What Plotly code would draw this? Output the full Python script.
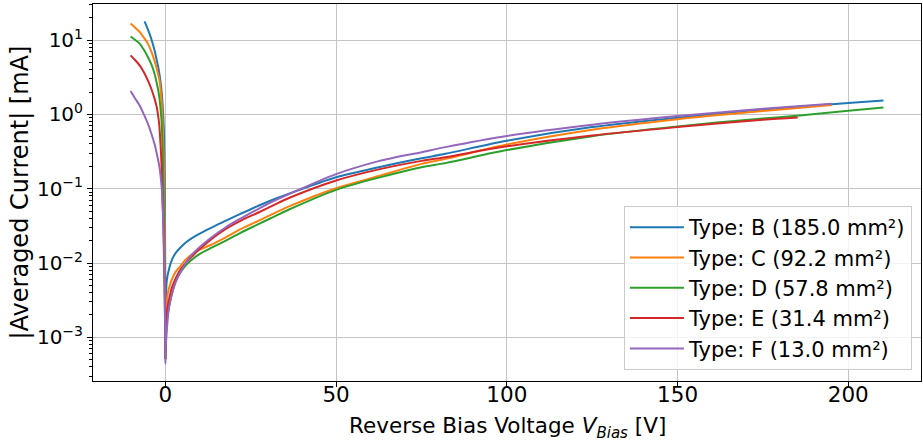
import plotly.graph_objects as go

# ---------------- data ----------------
names = ["Type: B (185.0 mm²)", "Type: C (92.2 mm²)", "Type: D (57.8 mm²)",
         "Type: E (31.4 mm²)", "Type: F (13.0 mm²)"]
colors = ["#1f77b4", "#ff7f0e", "#2ca02c", "#d62728", "#9467bd"]

# Type B
v_B = [-6.1, -5.4, -4.64, -3.9, -3.18, -2.5, -1.92, -1.45, -1.05, -0.75, -0.47, -0.3, -0.15, -0.06,
       0.0, 0.15, 0.41, 1.2, 2.0, 3.15, 4.5, 6.07, 8.0, 9.95, 12.9, 17.7, 22.0, 27.4, 32.0, 36.2,
       50.0, 62.5, 75.0, 82.0, 100.0, 125.0, 150.0, 175.0, 200.0, 210.3]
i_B = [17.9, 15.0, 12.2, 9.6, 7.3, 5.3, 3.92, 2.8, 1.9, 1.2, 0.67, 0.3, 0.08, 0.01,
       0.0005, 0.003, 0.0058, 0.00875, 0.0113, 0.0139, 0.0163, 0.019, 0.022, 0.0247, 0.029, 0.0373,
       0.046, 0.0594, 0.0726, 0.086,
       0.143, 0.195, 0.257, 0.295, 0.442, 0.675, 0.90, 1.16, 1.42, 1.54]

# Type C
v_C = [-10.2, -8.9, -7.55, -6.3, -5.13, -4.1, -3.18, -2.4, -1.72, -1.3, -0.95, -0.75, -0.55, -0.38,
       -0.22, -0.1,
       0.0, 0.2, 0.7, 1.4, 2.16, 3.0, 4.1, 6.0, 8.0, 10.0, 12.9, 17.7, 22.0, 27.4, 32.0, 36.2,
       50.0, 62.5, 75.0, 82.0, 100.0, 125.0, 150.0, 175.0, 195.2]
i_C = [16.7, 14.8, 12.9, 10.8, 8.97, 7.0, 5.3, 3.9, 2.87, 1.9, 1.13, 0.65, 0.33, 0.12, 0.03, 0.006,
       0.0005, 0.0018, 0.00384, 0.0052, 0.0064, 0.0076, 0.00875, 0.0112, 0.0133, 0.0151, 0.0172,
       0.0222, 0.0285, 0.0373, 0.047, 0.0578,
       0.1016, 0.148, 0.216, 0.252, 0.393, 0.622, 0.861, 1.11, 1.34]

# Type D
v_D = [-10.2, -8.9, -7.55, -6.3, -5.13, -4.1, -3.18, -2.5, -1.92, -1.5, -1.14, -0.9, -0.75, -0.55,
       -0.35, -0.18, -0.07,
       0.0, 0.2, 0.7, 1.4, 2.16, 3.0, 4.1, 6.0, 8.0, 10.0, 12.9, 17.7, 22.0, 27.4, 32.0, 36.2,
       50.0, 62.5, 75.0, 82.0, 100.0, 125.0, 150.0, 175.0, 185.0, 200.0, 210.3]
i_D = [11.2, 10.1, 8.97, 7.4, 5.92, 4.7, 3.53, 2.6, 1.9, 1.3, 0.83, 0.45, 0.24, 0.09, 0.025, 0.006,
       0.0015,
       0.0005, 0.0011, 0.00206, 0.0031, 0.00425, 0.0058, 0.00713, 0.0093, 0.01136, 0.0132, 0.0155,
       0.020, 0.0255, 0.0336, 0.0425, 0.0525,
       0.0966, 0.141, 0.195, 0.221, 0.331, 0.51, 0.69, 0.88, 0.96, 1.12, 1.24]

# Type E
v_E = [-10.2, -8.9, -7.55, -6.3, -5.13, -4.1, -3.18, -2.6, -2.2, -1.8, -1.43, -1.15, -0.95, -0.7,
       -0.45, -0.25, -0.1,
       0.0, 0.22, 0.6, 1.2, 2.0, 3.15, 4.5, 6.07, 8.0, 8.98, 12.9, 17.7, 22.0, 27.4, 32.0, 36.2,
       50.0, 62.5, 75.0, 82.0, 100.0, 125.0, 150.0, 175.0, 185.2]
i_E = [6.24, 5.4, 4.57, 3.7, 2.87, 2.2, 1.63, 1.3, 1.02, 0.72, 0.40, 0.22, 0.10, 0.045, 0.015,
       0.005, 0.0015,
       0.0005, 0.00167, 0.0025, 0.00345, 0.0048, 0.0064, 0.0083, 0.0102, 0.0125, 0.0139, 0.020,
       0.0288, 0.037, 0.0482, 0.061, 0.075,
       0.129, 0.182, 0.237, 0.266, 0.372, 0.521, 0.675, 0.85, 0.91]

# Type F
v_F = [-10.2, -8.9, -7.55, -6.3, -5.13, -4.1, -3.18, -2.4, -1.72, -1.35, -1.05, -0.8, -0.55, -0.4,
       -0.26, -0.12,
       0.0, 0.1, 0.41, 0.9, 1.68, 2.8, 4.1, 6.0, 8.0, 10.0, 12.9, 17.7, 22.0, 27.4, 32.0, 36.2,
       50.0, 62.5, 75.0, 82.0, 100.0, 125.0, 150.0, 175.0, 195.2]
i_F = [2.06, 1.65, 1.32, 1.0, 0.75, 0.55, 0.40, 0.28, 0.195, 0.14, 0.10, 0.062, 0.030, 0.016,
       0.0065, 0.002,
       0.00044, 0.0007, 0.00123, 0.0022, 0.00345, 0.0052, 0.00713, 0.0101, 0.0133, 0.0163, 0.0211,
       0.0303, 0.0396, 0.0541, 0.069, 0.0845,
       0.157, 0.235, 0.31, 0.363, 0.513, 0.726, 0.95, 1.19, 1.39]

voltages = [v_B, v_C, v_D, v_E, v_F]
currents = [i_B, i_C, i_D, i_E, i_F]

y_tick_vals = [1e-3, 1e-2, 1e-1, 1e0, 1e1]
y_tick_text = ["10<sup>−3</sup>", "10<sup>−2</sup>", "10<sup>−1</sup>", "10<sup>0</sup>", "10<sup>1</sup>"]
x_tick_vals = [0, 50, 100, 150, 200]
x_title = "Reverse Bias Voltage <i>V</i><sub><i>Bias</i></sub> [V]"
y_title = "|Averaged Current| [mA]"

# ---------------- figure ----------------
FONT = "DejaVu Sans"
W, H = 923, 443
ML, MR, MT, MB = 93, 2, 4, 62
PW, PH = W - ML - MR, H - MT - MB

fig = go.Figure()
for k in range(len(names)):
    fig.add_trace(go.Scatter(
        x=voltages[k], y=currents[k], mode="lines", name=names[k],
        line=dict(color=colors[k], width=2, shape="spline", smoothing=0.8),
        legendgroup=str(k)))

minor_vals = [m * 10 ** e for e in range(-4, 2) for m in range(2, 10)]

fig.update_layout(
    width=W, height=H,
    margin=dict(l=ML, r=MR, t=MT, b=MB),
    paper_bgcolor="white", plot_bgcolor="white",
    font=dict(family=FONT, size=21, color="black"),
    showlegend=True,
    legend=dict(x=0.989, y=0.029, xanchor="right", yanchor="bottom",
                bgcolor="rgba(255,255,255,0.8)", bordercolor="#cccccc", borderwidth=1,
                font=dict(family=FONT, size=21, color="black"),
                tracegroupgap=0, itemwidth=54),
    annotations=[
        dict(text=x_title, xref="paper", yref="paper",
             x=0.5, y=-(427 - (H - MB)) / PH,
             xanchor="center", yanchor="middle", showarrow=False,
             font=dict(family=FONT, size=21.5, color="black")),
        dict(text=y_title, xref="paper", yref="paper",
             x=(19 - ML) / PW, y=0.5, textangle=-90,
             xanchor="center", yanchor="middle", showarrow=False,
             font=dict(family=FONT, size=24, color="black")),
    ],
)
fig.update_xaxes(
    range=[-21.2, 221.3], tickvals=x_tick_vals,
    tickfont=dict(family=FONT, size=21.5), ticklabelstandoff=-11,
    showgrid=True, gridcolor="#c4c4c4", gridwidth=1,
    showline=True, linecolor="black", linewidth=1, mirror=True,
    ticks="outside", ticklen=5, tickcolor="black", zeroline=False,
)
fig.update_yaxes(
    type="log", range=[-3.588, 1.486],
    tickvals=y_tick_vals, ticktext=y_tick_text,
    tickfont=dict(family=FONT, size=20),
    showgrid=True, gridcolor="#c4c4c4", gridwidth=1,
    showline=True, linecolor="black", linewidth=1, mirror=True,
    ticks="outside", ticklen=5, tickcolor="black", zeroline=False,
    minor=dict(tickvals=minor_vals, ticks="outside", ticklen=3, tickcolor="black", showgrid=False),
)

fig.write_html("out.html")
